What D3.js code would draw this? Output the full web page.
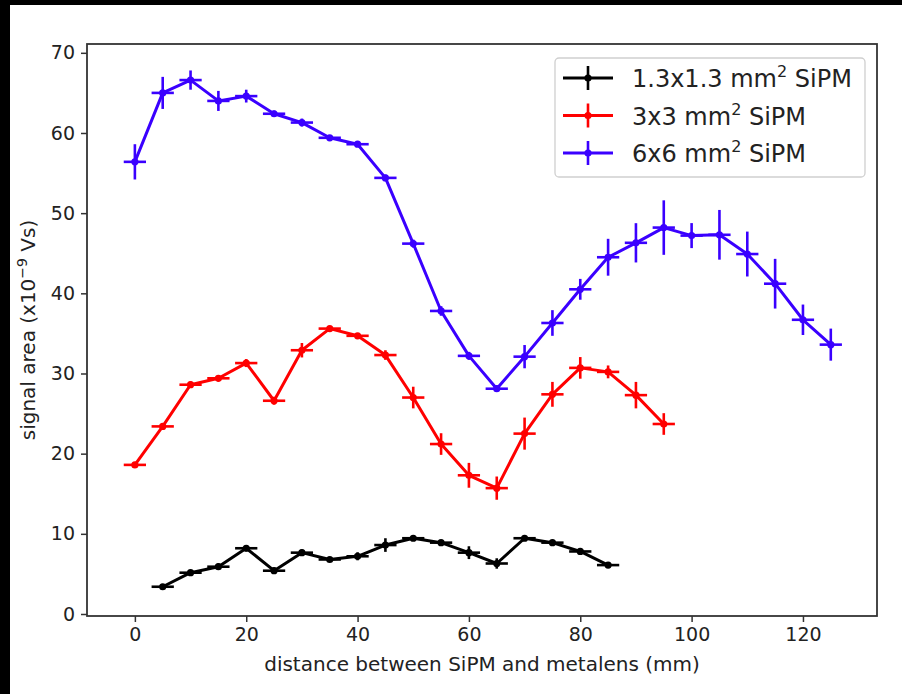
<!DOCTYPE html>
<html>
<head>
<meta charset="utf-8">
<script src="https://cdn.jsdelivr.net/npm/d3@7"></script>
<style>
	body { margin: 0; background: #fff; }
	svg { display: block; font-family: "DejaVu Sans", sans-serif; }
</style>
</head>
<body>
<svg id="chart" width="902" height="694"></svg>
<script>
// distances (mm) for each sensor
const dist13 = [5, 10, 15, 20, 25, 30, 35, 40, 45, 50, 55, 60, 65, 70, 75, 80, 85];
const dist3 = [0, 5, 10, 15, 20, 25, 30, 35, 40, 45, 50, 55, 60, 65, 70, 75, 80, 85, 90, 95];
const dist6 = [0, 5, 10, 15, 20, 25, 30, 35, 40, 45, 50, 55, 60, 65, 70, 75, 80, 85, 90, 95, 100, 105, 110, 115, 120, 125];

// signal area (x10^-9 Vs) and its error
const area13 = [3.4, 5.15, 5.9, 8.2, 5.4, 7.65, 6.8, 7.2, 8.6, 9.45, 8.9, 7.65, 6.3, 9.45, 8.9, 7.8, 6.1];
const err13 = [0.3, 0.3, 0.4, 0.4, 0.4, 0.4, 0.3, 0.5, 0.85, 0.3, 0.3, 0.8, 0.65, 0.3, 0.3, 0.4, 0.3];
const area3 = [18.6, 23.4, 28.6, 29.4, 31.3, 26.6, 32.9, 35.6, 34.7, 32.3, 27.0, 21.2, 17.3, 15.7, 22.5, 27.4, 30.7, 30.2, 27.3, 23.7];
const err3 = [0.3, 0.4, 0.4, 0.4, 0.5, 0.5, 0.9, 0.3, 0.3, 0.6, 1.35, 1.35, 1.55, 1.45, 2.0, 1.55, 1.35, 0.8, 1.65, 1.35];
const area6 = [56.4, 65.0, 66.6, 64.0, 64.6, 62.4, 61.3, 59.4, 58.6, 54.4, 46.2, 37.8, 32.2, 28.1, 32.1, 36.3, 40.5, 44.5, 46.3, 48.2, 47.2, 47.3, 44.9, 41.2, 36.7, 33.6];
const err6 = [2.2, 2.0, 1.2, 1.25, 0.8, 0.4, 0.5, 0.3, 0.3, 0.4, 0.5, 0.6, 0.5, 0.4, 1.45, 1.6, 1.3, 2.3, 2.45, 3.4, 1.56, 3.1, 2.8, 3.1, 1.9, 2.0];
const distErr = 2; // mm, same for all points

const xTicks = [0, 20, 40, 60, 80, 100, 120];
const yTicks = [0, 10, 20, 30, 40, 50, 60, 70];

const series = [
	{ name: '1.3x1.3 mm', x: dist13, y: area13, e: err13, color: '#000000' },
	{ name: '3x3 mm', x: dist3, y: area3, e: err3, color: '#ff0000' },
	{ name: '6x6 mm', x: dist6, y: area6, e: err6, color: '#3a00ff' }
];

const svg = d3.select('#chart');
const W = 902, H = 694;
const m = { left: 87, top: 44, right: 877, bottom: 616 };

// black frame of the original screenshot
svg.append('rect').attr('x', 0).attr('y', 0).attr('width', W).attr('height', 5).attr('fill', '#000');
svg.append('rect').attr('x', 0).attr('y', 0).attr('width', 10).attr('height', H).attr('fill', '#000');

const x = d3.scaleLinear().domain([-8.6, 133.3]).range([m.left, m.right]);
const y = d3.scaleLinear().domain([-0.25, 71.1]).range([m.bottom, m.top]);

const plot = svg.append('g');

series.forEach(s => {
	const pts = s.x.map((d, i) => ({ x: d, y: s.y[i], e: s.e[i] }));
	const g = plot.append('g');
	const line = d3.line().x(d => x(d.x)).y(d => y(d.y));
	g.append('path')
		.attr('d', line(pts))
		.attr('fill', 'none')
		.attr('stroke', s.color)
		.attr('stroke-width', 3)
		.attr('stroke-linejoin', 'round');
	// vertical error bars
	g.selectAll('line.ye').data(pts).enter().append('line')
		.attr('class', 'ye')
		.attr('x1', d => x(d.x)).attr('x2', d => x(d.x))
		.attr('y1', d => y(d.y - d.e)).attr('y2', d => y(d.y + d.e))
		.attr('stroke', s.color).attr('stroke-width', 2.6);
	// horizontal error bars
	g.selectAll('line.xe').data(pts).enter().append('line')
		.attr('class', 'xe')
		.attr('x1', d => x(d.x - distErr)).attr('x2', d => x(d.x + distErr))
		.attr('y1', d => y(d.y)).attr('y2', d => y(d.y))
		.attr('stroke', s.color).attr('stroke-width', 2.6);
	g.selectAll('circle').data(pts).enter().append('circle')
		.attr('cx', d => x(d.x)).attr('cy', d => y(d.y))
		.attr('r', 3.6).attr('fill', s.color);
});

// axes
const xAxis = svg.append('g')
	.attr('transform', `translate(0,${m.bottom})`)
	.call(d3.axisBottom(x).tickValues(xTicks).tickSize(6).tickPadding(6).tickFormat(d3.format('d')));
const yAxis = svg.append('g')
	.attr('transform', `translate(${m.left},0)`)
	.call(d3.axisLeft(y).tickValues(yTicks).tickSize(6).tickPadding(6).tickFormat(d3.format('d')));
[xAxis, yAxis].forEach(a => {
	a.select('.domain').remove();
	a.selectAll('.tick line').attr('stroke', '#333').attr('stroke-width', 1.5);
	a.selectAll('.tick text').attr('font-size', 19).attr('fill', '#222').attr('font-family', '"DejaVu Sans", sans-serif');
});

svg.append('rect')
	.attr('x', m.left).attr('y', m.top)
	.attr('width', m.right - m.left).attr('height', m.bottom - m.top)
	.attr('fill', 'none').attr('stroke', '#333').attr('stroke-width', 1.8);

// axis labels
svg.append('text')
	.attr('x', (m.left + m.right) / 2).attr('y', 671)
	.attr('text-anchor', 'middle').attr('font-size', 20).attr('fill', '#222')
	.text('distance between SiPM and metalens (mm)');

const yl = svg.append('text')
	.attr('transform', `translate(35,${(m.top + m.bottom) / 2}) rotate(-90)`)
	.attr('text-anchor', 'middle').attr('font-size', 20).attr('fill', '#222');
yl.append('tspan').text('signal area (x10');
yl.append('tspan').attr('font-size', 14).attr('dy', -8).text('\u22129');
yl.append('tspan').attr('dy', 8).text(' Vs)');

// legend
const leg = svg.append('g').attr('transform', 'translate(555,58)');
leg.append('rect')
	.attr('width', 310).attr('height', 119).attr('rx', 4)
	.attr('fill', '#fff').attr('fill-opacity', 0.8)
	.attr('stroke', '#cfcfcf').attr('stroke-width', 1.3);
series.forEach((s, i) => {
	const cy = 20 + i * 37.5;
	const row = leg.append('g').attr('transform', `translate(0,${cy})`);
	row.append('line').attr('x1', 8).attr('x2', 58).attr('y1', 0).attr('y2', 0)
		.attr('stroke', s.color).attr('stroke-width', 3);
	row.append('line').attr('x1', 33).attr('x2', 33).attr('y1', -12).attr('y2', 12)
		.attr('stroke', s.color).attr('stroke-width', 2.6);
	row.append('circle').attr('cx', 33).attr('cy', 0).attr('r', 3.6).attr('fill', s.color);
	const t = row.append('text').attr('x', 77).attr('y', 9).attr('font-size', 24).attr('fill', '#222');
	t.append('tspan').text(s.name);
	t.append('tspan').attr('font-size', 16).attr('dy', -10).text('2');
	t.append('tspan').attr('dy', 10).text(' SiPM');
});
</script>
</body>
</html>
